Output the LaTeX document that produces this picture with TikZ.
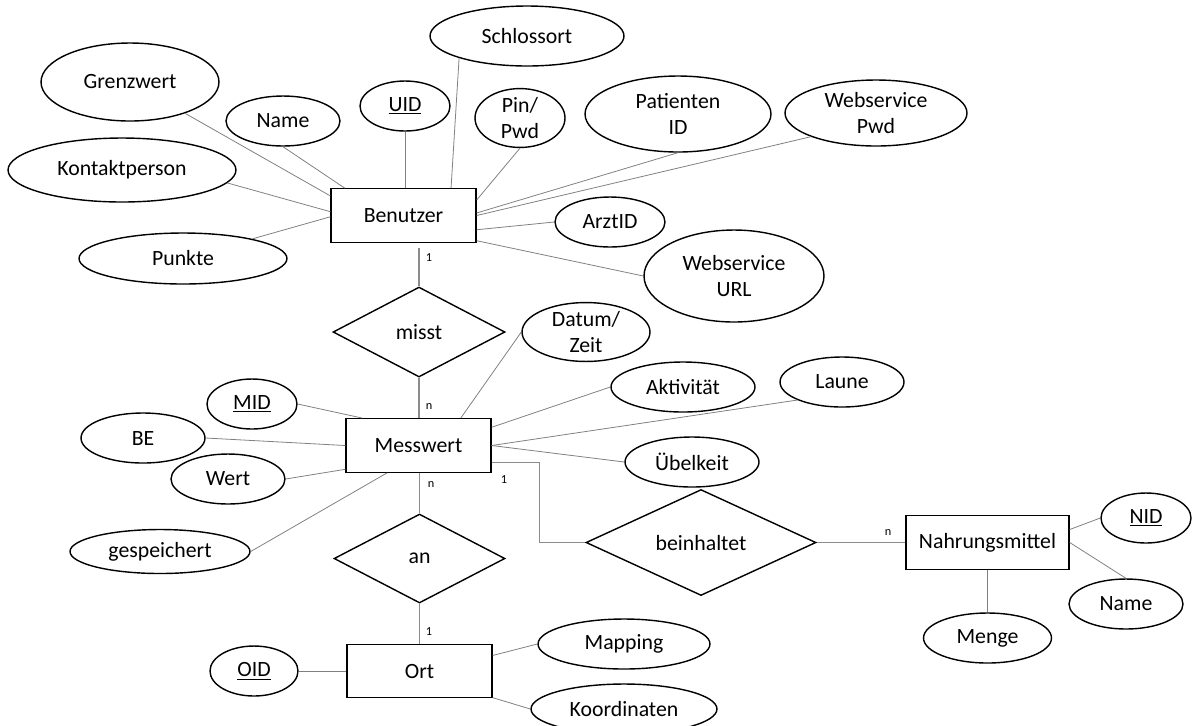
\documentclass[tikz,border=0pt]{standalone}
\usepackage{fontspec}
\setmainfont{Carlito}
\usetikzlibrary{shapes.geometric}

\begin{document}
\begin{tikzpicture}[x=0.02cm, y=-0.02cm,
    font=\fontsize{12.4}{15}\selectfont,
    entity/.style={draw, line width=0.8pt, minimum width=2.9cm, minimum height=1.07cm, inner sep=0pt},
    attr/.style={ellipse, draw, line width=0.8pt, minimum height=1cm, inner sep=0pt, align=center},
    rel/.style={diamond, draw, line width=0.8pt, inner sep=0pt},
    link/.style={draw=gray, line width=0.45pt},
    rlink/.style={draw=gray!90, line width=0.75pt},
    card/.style={font=\fontsize{7}{8}\selectfont, inner sep=0pt}]
    \path[use as bounding box, clip] (0,0) rectangle (1192,725);

    % Entities
    \node[entity] (benutzer) at (403.5,215.5) {Benutzer};
    \node[entity] (messwert) at (418.5,445.5) {Messwert};
    \node[entity] (ort) at (419.5,671) {Ort};
    \node[entity, minimum width=3.26cm] (nahrung) at (987.5,542.5) {Nahrungsmittel};

    % Relationships
    \node[rel, minimum width=3.44cm, minimum height=1.8cm] (misst) at (419,332) {misst};
    \node[rel, minimum width=3.42cm, minimum height=1.78cm] (an) at (419.5,558.5) {an};
    \node[rel, minimum width=4.6cm, minimum height=1.82cm] (beinhaltet) at (701,542.5) {beinhaltet};

    % Attributes of Benutzer
    \node[attr, minimum width=3.56cm, minimum height=1.56cm] (grenzwert) at (130,82) {Grenzwert};
    \node[attr, minimum width=2.28cm] (bname) at (283,121) {Name};
    \node[attr, minimum width=1.8cm] (uid) at (405,106) {\underline{UID}};
    \node[attr, minimum width=3.88cm, minimum height=1.2cm] (schlossort) at (527,36) {Schlossort};
    \node[attr, minimum width=1.8cm] (pinpwd) at (520,118) {Pin/\\Pwd};
    \node[attr, minimum width=3.72cm, minimum height=1.52cm] (patient) at (678,114) {Patienten\\ID};
    \node[attr, minimum width=3.64cm, minimum height=1.32cm] (wspwd) at (876,113) {Webservice\\Pwd};
    \node[attr, minimum width=4.56cm, minimum height=1.28cm] (kontakt) at (122,170) {Kontaktperson};
    \node[attr, minimum width=4.16cm, minimum height=1.02cm] (punkte) at (183,258.5) {Punkte};
    \node[attr, minimum width=2.2cm] (arztid) at (610,222) {ArztID};
    \node[attr, minimum width=3.6cm, minimum height=1.84cm] (wsurl) at (734,276) {Webservice\\URL};

    % Attributes of Messwert
    \node[attr, minimum width=2.56cm] (datum) at (586,332) {Datum/\\Zeit};
    \node[attr, minimum width=2.88cm] (aktiv) at (683,387) {Aktivität};
    \node[attr, minimum width=2.48cm] (laune) at (842,382) {Laune};
    \node[attr, minimum width=2.68cm] (uebel) at (692,462) {Übelkeit};
    \node[attr, minimum width=1.8cm] (mid) at (252,404) {\underline{MID}};
    \node[attr, minimum width=2.48cm] (be) at (143,438) {BE};
    \node[attr, minimum width=2.28cm] (wert) at (228,479) {Wert};
    \node[attr, minimum width=3.6cm, minimum height=0.88cm] (gespeichert) at (160,551.5) {gespeichert};

    % Attributes of Ort and Nahrungsmittel
    \node[attr, minimum width=1.76cm] (oid) at (254,671) {\underline{OID}};
    \node[attr, minimum width=3.44cm] (mapping) at (624,644) {Mapping};
    \node[attr, minimum width=3.72cm] (koord) at (624,709) {Koordinaten};
    \node[attr, minimum width=1.8cm] (nid) at (1146,518) {\underline{NID}};
    \node[attr, minimum width=2.28cm] (nname) at (1126,604) {Name};
    \node[attr, minimum width=2.56cm] (menge) at (987.5,638) {Menge};

    % Attribute links
    \draw[link] (grenzwert) -- (benutzer.165);
    \draw[link] (bname.south) -- (benutzer.155);
    \draw[link] (uid.south) -- (uid.south |- benutzer.north);
    \draw[link] (schlossort.198) -- (benutzer.30);
    \draw[link] (pinpwd.south) -- (benutzer.12);
    \draw[link] (kontakt.-7) -- (benutzer.177);
    \draw[link] (punkte) -- (benutzer.181);
    \draw[link] (patient.south) -- (benutzer.2);
    \draw[link] (wspwd.200) -- (benutzer.0);
    \draw[link] (arztid.west) -- (benutzer.-11);
    \draw[link] (wsurl.west) -- (benutzer.-19);

    \draw[link] (mid.east) -- (messwert.154);
    \draw[link] (be.east) -- (messwert.west);
    \draw[link] (wert.east) -- (messwert.198);
    \draw[link] (gespeichert.east) -- (messwert.221);
    \draw[link] (datum.west) -- (messwert.33);
    \draw[link] (aktiv.west) -- (messwert.14);
    \draw[link] (laune.202) -- (messwert.east);
    \draw[link] (uebel.west) -- (messwert.east);

    \draw[link] (oid.east) -- (ort.west);
    \draw[link] (mapping.west) -- (ort.12);
    \draw[link] (koord.west) -- (ort.-20);
    \draw[link] (nid.west) -- (nahrung.9);
    \draw[link] (nname.north) -- (nahrung.east);
    \draw[link] (menge.north) -- (nahrung.south);

    % Relationship links
    \draw[rlink] ([yshift=-3pt]benutzer.south -| misst.north) -- (misst.north);
    \draw[rlink] (misst.south) -- (messwert.north -| misst.south);
    \draw[rlink] (messwert.south -| an.north) -- (an.north);
    \draw[rlink] (an.south) -- (ort.north -| an.south);
    \draw[rlink] (messwert.-13) -- ++(48,0) |- (beinhaltet.west);
    \draw[rlink] (beinhaltet.east) -- (nahrung.west);

    % Cardinalities
    \node[card] (c1) at (429,258) {1};
    \node[card] (c2) at (429,407) {n};
    \node[card] (c3) at (431,485) {n};
    \node[card] (c4) at (504,480) {1};
    \node[card] (c5) at (888,532) {n};
    \node[card] (c6) at (429,632) {1};
\end{tikzpicture}
\end{document}
